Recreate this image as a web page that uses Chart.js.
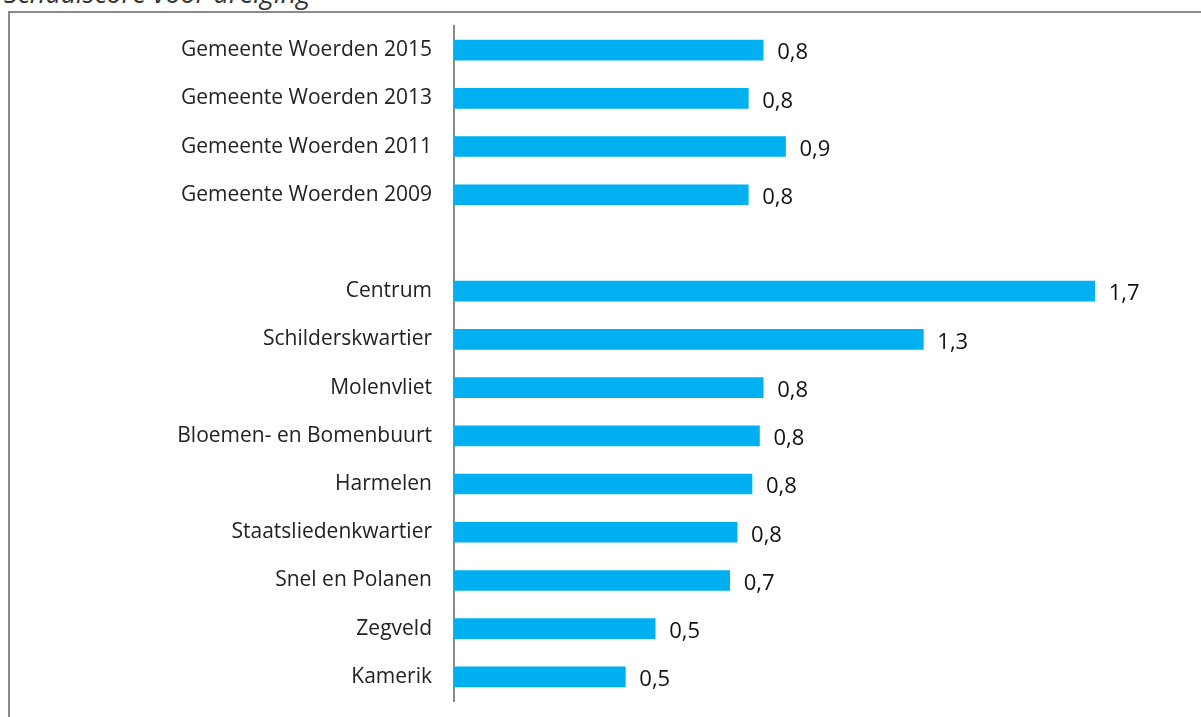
<!DOCTYPE html>
<html>
<head>
<meta charset="utf-8">
<script src="https://cdn.jsdelivr.net/npm/chart.js@4"></script>
<style>
  body { margin: 0; background: #fff; overflow: hidden; }
  #wrap { position: relative; width: 1201px; height: 717px; }
  #frame { position: absolute; left: 8px; top: 11px; width: 1300px; height: 800px;
           border-left: 2px solid #8a8a8a; border-top: 2px solid #8a8a8a; }
  #title { position: absolute; left: 4px; top: -21px; font: italic 27px "Open Sans", sans-serif;
           line-height: 27px; color: #333; white-space: nowrap; }
  canvas { position: absolute; left: 0; top: 0; }
</style>
</head>
<body>
<div id="wrap">
  <div id="frame"></div>
  <div id="title">Schaalscore voor dreiging</div>
  <canvas id="barChart" width="1201" height="717"></canvas>
</div>
<script>
const categories = [
  'Gemeente Woerden 2015', 'Gemeente Woerden 2013', 'Gemeente Woerden 2011', 'Gemeente Woerden 2009',
  '',
  'Centrum', 'Schilderskwartier', 'Molenvliet', 'Bloemen- en Bomenbuurt', 'Harmelen',
  'Staatsliedenkwartier', 'Snel en Polanen', 'Zegveld', 'Kamerik'
];
// scores (empty row keeps the gap)
const scores = [0.83, 0.79, 0.89, 0.79, null, 1.72, 1.26, 0.83, 0.82, 0.80, 0.76, 0.74, 0.54, 0.46];

const barCtx = document.getElementById('barChart');

// draw the value next to each bar, with a decimal comma
const valueLabels = {
  id: 'valueLabels',
  afterDatasetsDraw(chart) {
    const ctx = chart.ctx;
    const meta = chart.getDatasetMeta(0);
    ctx.save();
    ctx.font = '22px "Open Sans", sans-serif';
    ctx.fillStyle = '#111';
    ctx.textBaseline = 'middle';
    meta.data.forEach((bar, i) => {
      const v = scores[i];
      if (v === null) return;
      ctx.fillText(v.toFixed(1).replace('.', ','), bar.x + 14, bar.y + 3);
    });
    ctx.restore();
  }
};

new Chart(barCtx, {
  type: 'bar',
  data: {
    labels: categories,
    datasets: [{
      data: scores,
      backgroundColor: '#00b0f0',
      barThickness: 20
    }]
  },
  options: {
    indexAxis: 'y',
    responsive: false,
    animation: false,
    layout: { padding: { top: 26, bottom: 16, right: 2, left: 0 } },
    plugins: {
      legend: { display: false },
      tooltip: { enabled: false }
    },
    scales: {
      x: {
        display: false,
        min: 0,
        max: 2
      },
      y: {
        afterFit: scale => { scale.width = 454; },
        // gap between labels and axis comes from an invisible tick length
        grid: { display: false, drawTicks: true, tickLength: 22 },
        border: { display: true, color: '#8a8a8a', width: 2 },
        ticks: {
          padding: 0,
          color: '#222',
          font: { family: '"Open Sans", sans-serif', size: 21 }
        }
      }
    }
  },
  plugins: [valueLabels]
});
</script>
</body>
</html>
